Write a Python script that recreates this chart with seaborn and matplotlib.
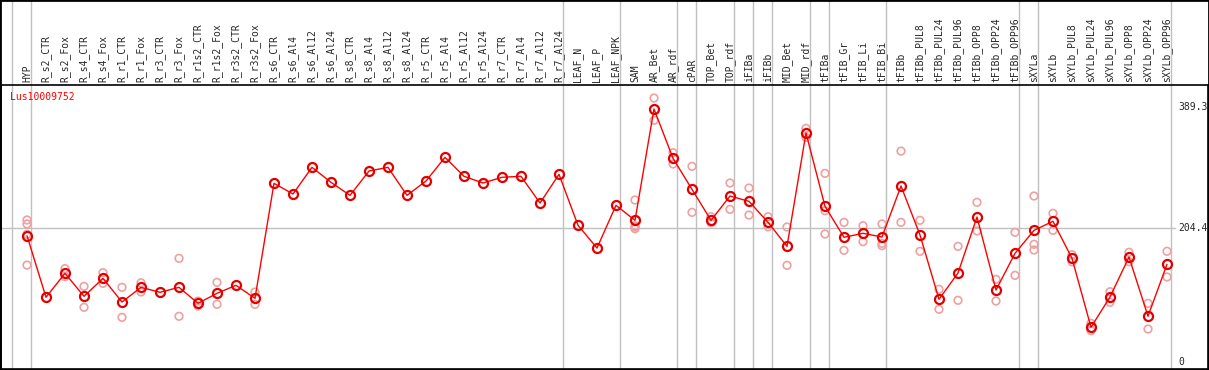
import numpy as np
import pandas as pd
import matplotlib.pyplot as plt
import seaborn as sns
from matplotlib.patches import Rectangle

# ---- data ----
gene = "Lus10009752"

samples = [
    "HYP", "R_s2_CTR", "R_s2_Fox", "R_s4_CTR", "R_s4_Fox", "R_r1_CTR", "R_r1_Fox",
    "R_r3_CTR", "R_r3_Fox", "R_r1s2_CTR", "R_r1s2_Fox", "R_r3s2_CTR", "R_r3s2_Fox",
    "R_s6_CTR", "R_s6_Al4", "R_s6_Al12", "R_s6_Al24", "R_s8_CTR", "R_s8_Al4",
    "R_s8_Al12", "R_s8_Al24", "R_r5_CTR", "R_r5_Al4", "R_r5_Al12", "R_r5_Al24",
    "R_r7_CTR", "R_r7_Al4", "R_r7_Al12", "R_r7_Al24", "LEAF_N", "LEAF_P", "LEAF_NPK",
    "SAM", "AR_Bet", "AR_rdf", "cPAR", "TOP_Bet", "TOP_rdf", "iFIBa", "iFIBb",
    "MID_Bet", "MID_rdf", "tFIBa", "tFIB_Gr", "tFIB_Li", "tFIB_Bi", "tFIBb",
    "tFIBb_PUL8", "tFIBb_PUL24", "tFIBb_PUL96", "tFIBb_OPP8", "tFIBb_OPP24",
    "tFIBb_OPP96", "sXYLa", "sXYLb", "sXYLb_PUL8", "sXYLb_PUL24", "sXYLb_PUL96",
    "sXYLb_OPP8", "sXYLb_OPP24", "sXYLb_OPP96",
]

mean_expr = [
    192.8, 98.8, 135.4, 100.3, 127.7, 91.6, 114.0, 106.4, 114.0, 89.6, 104.9, 117.1, 97.2,
    272.8, 256.5, 297.2, 274.3, 254.4, 291.6, 297.2, 254.4, 276.3, 312.5, 283.5, 273.3,
    282.0, 283.5, 242.7, 286.5, 208.7, 174.0, 239.2,
    216.3, 386.3, 311.0, 263.6, 216.3, 253.4, 245.3, 213.2, 176.6, 349.6,
    237.7, 190.4, 196.5, 190.8, 268.7, 193.9, 95.7, 135.9, 221.4, 109.9, 165.9,
    201.0, 214.8, 158.3, 53.0, 99.2, 160.3, 69.8, 149.2,
]

replicates = [
    [216.8, 210.7, 195.0, 148.0], [], [142.5, 130.3], [115.5, 83.5], [136.4, 120.1],
    [114.0, 68.2], [121.0, 106.9], [], [158.3, 69.8], [93.0, 85.5], [121.6, 88.0], [],
    [106.9, 88.0],
    [], [], [], [], [], [], [], [], [], [], [], [], [], [], [], [], [], [], [],
    [247.3, 208.0, 203.5, 206.0], [403.0, 369.0], [319.6, 302.3], [298.7, 228.5],
    [221.8, 212.6], [273.3, 233.1], [265.6, 224.4], [221.8, 206.6], [206.1, 147.6],
    [356.7, 343.0], [288.0, 231.0, 195.4], [213.2, 170.5], [208.0, 183.7],
    [210.7, 181.2, 177.6], [322.0, 213.2], [216.3, 169.0], [111.0, 80.5],
    [176.6, 94.2], [243.8, 200.0], [126.2, 93.1], [198.0, 132.3],
    [253.4, 179.7, 171.0], [227.0, 201.0], [163.8, 153.0], [59.0, 47.8],
    [107.3, 91.1], [167.5, 153.1], [89.6, 50.4], [169.0, 129.8],
]

# number of samples in each tissue group (grey separators)
group_sizes = [1, 28, 3, 3, 1, 2, 1, 1, 2, 1, 3, 7, 1, 7]

y_marks = [0, 204.4, 389.3]

# ---- frames ----
pos = np.arange(len(samples))
df_mean = pd.DataFrame({"pos": pos, "expr": mean_expr})
df_rep = pd.DataFrame(
    [(i, v) for i, reps in enumerate(replicates) for v in reps], columns=["pos", "expr"]
)

sns.set_style("white")
plt.rcParams["font.family"] = ["DejaVu Sans Mono"]

W, H = 1209, 370
fig = plt.figure(figsize=(W / 100, H / 100), dpi=100)
# plot area: x 1..1208 px, y 85..369 px (from top)
ax = fig.add_axes([1 / W, 1 / H, 1207 / W, 284 / H])

# column i sits at pixel 27 + 19*i ; value v at pixel 362 - 0.655*v
ax.set_xlim((1 - 27) / 19, (1208 - 27) / 19)
ax.set_ylim((362 - 369) / 0.655, (362 - 85) / 0.655)

grey = "#c0c0c0"
ends = np.concatenate([[-1], np.cumsum(group_sizes) - 1])
for e in ends:
    ax.axvline(e + 0.2, ymin=0, ymax=369 / 284, color=grey, lw=1, clip_on=False, zorder=1)
ax.axhline(y_marks[1], xmin=0, xmax=(1175 - 1) / 1207, color=grey, lw=1, zorder=1)

sns.scatterplot(data=df_rep, x="pos", y="expr", ax=ax, marker="o", s=30,
                facecolor="none", edgecolor="#f0a0a0", linewidth=1.2, zorder=2,
                legend=False)
sns.lineplot(data=df_mean, x="pos", y="expr", ax=ax, color="red", lw=1,
             marker="o", markersize=6.5, markerfacecolor="none",
             markeredgecolor="#e00000", markeredgewidth=1.6, zorder=3)

ax.set_xticks(pos)
ax.set_xticklabels(samples, rotation=90, fontsize=7)
ax.xaxis.tick_top()
ax.tick_params(axis="x", length=0, pad=2)
ax.set_yticks([])
ax.set_xlabel("")
ax.set_ylabel("")

for v in y_marks:
    ax.text((1178 - 27) / 19, v, f"{v:g}", fontsize=7, va="center", ha="left")

ax.text(9 / 1207, 1 - 12 / 284, gene, transform=ax.transAxes, color="red",
        fontsize=7, va="center", ha="left")

for s in ax.spines.values():
    s.set_color("black")
    s.set_linewidth(1.2)

fig.patches.append(Rectangle((0, 0), 1, 1, transform=fig.transFigure, fill=False,
                             edgecolor="black", lw=2))

fig.savefig("out.png", dpi=100)
